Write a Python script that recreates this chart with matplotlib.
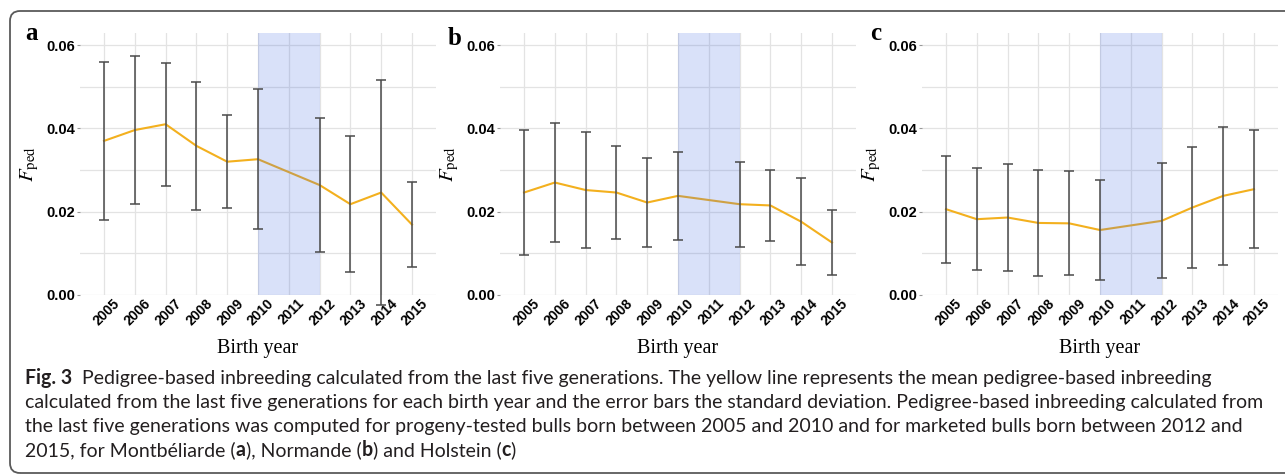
import matplotlib
matplotlib.use("Agg")
import matplotlib.pyplot as plt
import matplotlib.patches as patches
from matplotlib.ticker import MultipleLocator
from matplotlib.transforms import ScaledTranslation

# ---- data -------------------------------------------------------------------
YEARS = [2005, 2006, 2007, 2008, 2009, 2010, 2012, 2013, 2014, 2015]
TICK_YEARS = list(range(2005, 2016))
SHADE = (2010, 2012)

MEAN_A = [0.0370, 0.0396, 0.0410, 0.0358, 0.0320, 0.0326, 0.0264, 0.0218, 0.0246, 0.0169]
SD_A = [0.0189, 0.0177, 0.0148, 0.0154, 0.0112, 0.0168, 0.0160, 0.0163, 0.0270, 0.0102]

MEAN_B = [0.0246, 0.0270, 0.0252, 0.0246, 0.0222, 0.0238, 0.0218, 0.0215, 0.0176, 0.0126]
SD_B = [0.0150, 0.0143, 0.0140, 0.0112, 0.0106, 0.0106, 0.0102, 0.0085, 0.0104, 0.0078]

MEAN_C = [0.0206, 0.0182, 0.0186, 0.0173, 0.0172, 0.0156, 0.0178, 0.0210, 0.0238, 0.0254]
SD_C = [0.0128, 0.0123, 0.0129, 0.0127, 0.0125, 0.0120, 0.0138, 0.0145, 0.0166, 0.0142]

PANELS = [("a", MEAN_A, SD_A), ("b", MEAN_B, SD_B), ("c", MEAN_C, SD_C)]

CAPTION = [
    [("Fig. 3", "bold"), ("  Pedigree-based inbreeding calculated from the last five generations. "
                          "The yellow line represents the mean pedigree-based inbreeding", "normal")],
    [("calculated from the last five generations for each birth year and the error bars the standard "
      "deviation. Pedigree-based inbreeding calculated from", "normal")],
    [("the last five generations was computed for progeny-tested bulls born between 2005 and 2010 "
      "and for marketed bulls born between 2012 and", "normal")],
    [("2015, for Montbéliarde (", "normal"), ("a", "bold"), ("), Normande (", "normal"),
     ("b", "bold"), (") and Holstein (", "normal"), ("c", "bold"), (")", "normal")],
]

# ---- style ------------------------------------------------------------------
LINE_COLOR = "#f3b01e"
ERR_COLOR = "#4a4a4a"
SHADE_COLOR = "#4169e1"
GRID_COLOR = "#e3e3e3"
plt.rcParams["mathtext.fontset"] = "stix"

W, H = 1285, 474
fig = plt.figure(figsize=(W / 100, H / 100), dpi=100)

# panel geometry in pixels
panel_left = [80, 500, 922]
label_pos = [(25, 40), (448, 45), (870, 40)]
top_px, bot_px, width_px = 33, 295, 356

for (letter, mean, sd), lx, (tx, ty) in zip(PANELS, panel_left, label_pos):
    ax = fig.add_axes([lx / W, (H - bot_px) / H, width_px / W, (bot_px - top_px) / H])
    ax.set_xlim(2004.22, 2015.78)
    ax.set_ylim(0, 0.0629)

    ax.axvspan(*SHADE, color=SHADE_COLOR, alpha=0.2, lw=0, zorder=3)
    ax.plot(YEARS, mean, color=LINE_COLOR, lw=1.5, zorder=2)
    ax.errorbar(YEARS, mean, yerr=sd, fmt="none", ecolor=ERR_COLOR, elinewidth=1.1,
                capsize=3.3, capthick=1.1, zorder=4, clip_on=False)

    ax.set_xticks(TICK_YEARS)
    ax.yaxis.set_major_locator(MultipleLocator(0.02))
    ax.yaxis.set_minor_locator(MultipleLocator(0.01))
    ax.set_yticklabels([f"{v:.2f}" for v in ax.get_yticks()])
    ax.grid(True, which="both", color=GRID_COLOR, lw=0.9, zorder=0)
    ax.set_axisbelow(True)
    for s in ax.spines.values():
        s.set_visible(False)

    ax.tick_params(axis="x", length=0, pad=1)
    ax.tick_params(axis="y", which="major", length=2.5, width=0.8, color="#999999", pad=1)
    ax.tick_params(axis="y", which="minor", length=0)
    offset = ScaledTranslation(3 / 100, 0, fig.dpi_scale_trans)
    for lab in ax.get_xticklabels():
        lab.set_rotation(45)
        lab.set_ha("center")
        lab.set_va("top")
        lab.set_fontweight("bold")
        lab.set_fontsize(10)
        lab.set_fontfamily("Liberation Sans")
        lab.set_transform(lab.get_transform() + offset)
    for lab in ax.get_yticklabels():
        lab.set_fontweight("bold")
        lab.set_fontsize(10.5)
        lab.set_fontfamily("Liberation Sans")

    ax.text(0.5, (bot_px - 349) / (bot_px - top_px), "Birth year", transform=ax.transAxes,
            ha="center", va="center", fontsize=14.5, family="Liberation Serif")
    ax.text(-50 / width_px, 0.5, r"$F_{\mathrm{ped}}$", transform=ax.transAxes, rotation=90,
            ha="center", va="center", fontsize=15)
    fig.text(tx / W, (H - ty) / H, letter, fontsize=18, fontweight="bold",
             family="Liberation Serif", ha="left", va="baseline")

# ---- caption -----------------------------------------------------------------
renderer = fig.canvas.get_renderer()
line_y = [384, 408, 432, 456]
for parts, y in zip(CAPTION, line_y):
    x = 25
    for s, w in parts:
        t = fig.text(x / W, (H - y) / H, s, fontsize=14.05, fontweight=w,
                     family="Lato", color="#231f20", ha="left", va="baseline")
        x = t.get_window_extent(renderer).x1

# ---- outer frame ---------------------------------------------------------------
frame = patches.FancyBboxPatch((10, 1), 1300, H - 12, boxstyle="round,pad=0,rounding_size=10",
                               transform=None, fill=False, edgecolor="#5a5a5a", lw=1.3,
                               clip_on=False)
fig.add_artist(frame)

fig.savefig("out.png", dpi=100)
